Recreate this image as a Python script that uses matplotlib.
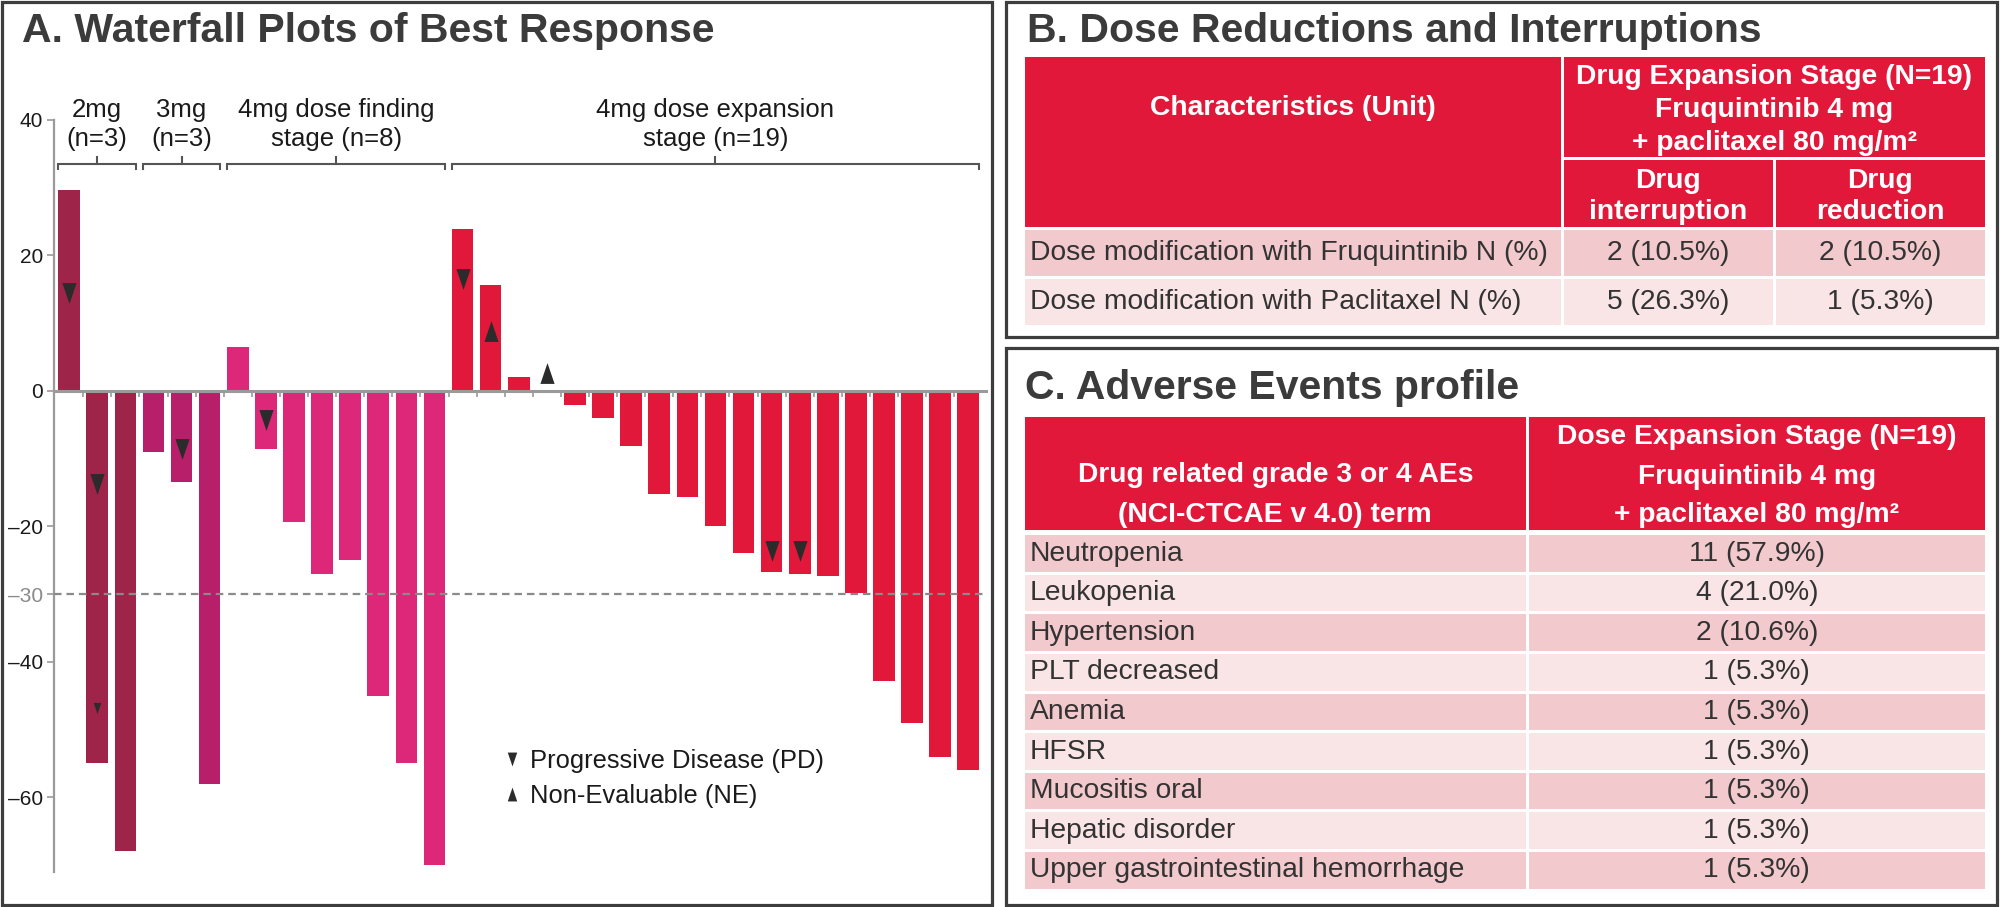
import matplotlib
matplotlib.use("Agg")
import matplotlib.pyplot as plt
from matplotlib.patches import Rectangle
from matplotlib.lines import Line2D
import numpy as np

plt.rcParams['font.family'] = ['Liberation Sans', 'DejaVu Sans']

# ------------------------------------------------------------------ data
group_names = ["2mg", "3mg", "4mg dose finding", "4mg dose expansion"]
group_subs = ["(n=3)", "(n=3)", "stage (n=8)", "stage (n=19)"]
group_sizes = [3, 3, 8, 19]
group_colors = ["#9E2449", "#B81F6B", "#DD2779", "#E2183A"]

best_response = [29.7, -55.0, -68.0,
                 -9.0, -13.5, -58.0,
                 6.5, -8.6, -19.3, -27.0, -25.0, -45.0, -55.0, -70.0,
                 23.9, 15.7, 2.0, 0.0, -2.1, -4.0, -8.2, -15.2, -15.7,
                 -20.0, -24.0, -26.8, -27.0, -27.3, -29.9, -42.9, -49.0,
                 -54.0, -56.0]

pd_index = [0, 1, 4, 7, 14, 25, 26]
pd_value = [14.4, -13.8, -8.6, -4.3, 16.5, -23.7, -23.7]
pd_small_index = [1]
pd_small_value = [-46.8]
ne_index = [15, 17]
ne_value = [8.9, 2.7]

y_ticks = [40, 20, 0, -20, -30, -40, -60]
threshold = -30
legend_labels = ["Progressive Disease (PD)", "Non-Evaluable (NE)"]

a_title = "A. Waterfall Plots of Best Response"

b_title = "B. Dose Reductions and Interruptions"
b_header_left = "Characteristics (Unit)"
b_header_top = ["Drug Expansion Stage (N=19)", "Fruquintinib 4 mg",
                "+ paclitaxel 80 mg/m\u00b2"]
b_subheaders = [["Drug", "interruption"], ["Drug", "reduction"]]
b_rows = ["Dose modification with Fruquintinib N (%)",
          "Dose modification with Paclitaxel N (%)"]
b_interruption = ["2 (10.5%)", "5 (26.3%)"]
b_reduction = ["2 (10.5%)", "1 (5.3%)"]

c_title = "C. Adverse Events profile"
c_header_left = ["Drug related grade 3 or 4 AEs", "(NCI-CTCAE v 4.0) term"]
c_header_right = ["Dose Expansion Stage (N=19)", "Fruquintinib 4 mg",
                  "+ paclitaxel 80 mg/m\u00b2"]
c_terms = ["Neutropenia", "Leukopenia", "Hypertension", "PLT decreased",
           "Anemia", "HFSR", "Mucositis oral", "Hepatic disorder",
           "Upper gastrointestinal hemorrhage"]
c_values = ["11 (57.9%)", "4 (21.0%)", "2 (10.6%)", "1 (5.3%)", "1 (5.3%)",
            "1 (5.3%)", "1 (5.3%)", "1 (5.3%)", "1 (5.3%)"]

# ------------------------------------------------------------------ style
W, H = 2000, 907
BORDER = "#3d3d3d"
TITLE_C = "#3b3b3b"
RED = "#E1183A"
ROW_DARK = "#F2C9CD"
ROW_LIGHT = "#F9E4E6"
TXT = "#333333"
GREY = "#9a9a9a"
TITLE_FS = 29.5
TAB_FS = 20.3

fig = plt.figure(figsize=(W / 100, H / 100), dpi=100)
bg = fig.add_axes([0, 0, 1, 1])
bg.set_xlim(0, W)
bg.set_ylim(H, 0)
bg.axis("off")

# panel frames
for (x0, y0, x1, y1) in [(1.5, 1.5, 991.5, 905), (1005.5, 2, 1996.5, 337),
                         (1005.5, 348, 1996.5, 904.5)]:
    bg.add_patch(Rectangle((x0, y0), x1 - x0, y1 - y0, fill=False,
                           edgecolor=BORDER, linewidth=2.3))

# titles
bg.text(22.5, 42, a_title, fontsize=TITLE_FS, fontweight="bold",
        color=TITLE_C, va="baseline", ha="left")
bg.text(1027, 41.7, b_title, fontsize=TITLE_FS, fontweight="bold",
        color=TITLE_C, va="baseline", ha="left")
bg.text(1025, 399, c_title, fontsize=TITLE_FS, fontweight="bold",
        color=TITLE_C, va="baseline", ha="left")

GAP = 1.5


def cell(x0, x1, y0, y1, color):
    bg.add_patch(Rectangle((x0 + GAP, y0 + GAP), x1 - x0 - 2 * GAP,
                           y1 - y0 - 2 * GAP, facecolor=color,
                           edgecolor="none"))


def htext(x, y, s, **kw):
    bg.text(x, y, s, ha="center", va="center", color="white",
            fontweight="bold", fontsize=TAB_FS, **kw)


# ---------------------------------------------------------------- table B
bx = [1023.5, 1562, 1774, 1986.5]
by_head = [55.5, 158, 228]
b_row_edges = [228, 277.5, 326.5]
cell(bx[0], bx[1], by_head[0], by_head[2], RED)
cell(bx[1], bx[3], by_head[0], by_head[1], RED)
cell(bx[1], bx[2], by_head[1], by_head[2], RED)
cell(bx[2], bx[3], by_head[1], by_head[2], RED)
htext((bx[0] + bx[1]) / 2, 108, b_header_left)
for line, yy in zip(b_header_top, [76.7, 110, 143]):
    htext((bx[1] + bx[3]) / 2, yy, line)
for j, sub in enumerate(b_subheaders):
    xc = (bx[1 + j] + bx[2 + j]) / 2
    for line, yy in zip(sub, [181, 211.7]):
        htext(xc, yy, line)
for i, (lab, v1, v2) in enumerate(zip(b_rows, b_interruption, b_reduction)):
    y0, y1 = b_row_edges[i], b_row_edges[i + 1]
    col = ROW_DARK if i % 2 == 0 else ROW_LIGHT
    for k in range(3):
        cell(bx[k], bx[k + 1], y0, y1, col)
    yc = (y0 + y1) / 2
    bg.text(1030, yc, lab, ha="left", va="center", fontsize=TAB_FS, color=TXT)
    bg.text((bx[1] + bx[2]) / 2, yc, v1, ha="center", va="center",
            fontsize=TAB_FS, color=TXT)
    bg.text((bx[2] + bx[3]) / 2, yc, v2, ha="center", va="center",
            fontsize=TAB_FS, color=TXT)

# ---------------------------------------------------------------- table C
cx = [1023.5, 1527, 1986.5]
cell(cx[0], cx[1], 415.5, 531, RED)
cell(cx[1], cx[2], 415.5, 531, RED)
for line, yy in zip(c_header_left, [475.5, 515.5]):
    htext((cx[0] + cx[1]) / 2, yy, line)
for line, yy in zip(c_header_right, [437, 476.5, 515.5]):
    htext((cx[1] + cx[2]) / 2, yy, line)
row_top0, pitch = 533.7, 39.61
for i, (term, val) in enumerate(zip(c_terms, c_values)):
    y0 = row_top0 + pitch * i
    y1 = y0 + pitch
    col = ROW_DARK if i % 2 == 0 else ROW_LIGHT
    cell(cx[0], cx[1], y0, y1, col)
    cell(cx[1], cx[2], y0, y1, col)
    yc = (y0 + y1) / 2
    bg.text(1030, yc, term, ha="left", va="center", fontsize=TAB_FS, color=TXT)
    bg.text((cx[1] + cx[2]) / 2, yc, val, ha="center", va="center",
            fontsize=TAB_FS, color=TXT)

# ---------------------------------------------------------------- waterfall
ax_l, ax_r, ax_t, ax_b = 54.3, 986, 120, 871.7
ax = fig.add_axes([ax_l / W, 1 - ax_b / H, (ax_r - ax_l) / W, (ax_b - ax_t) / H])
ax.patch.set_alpha(0)
n = len(best_response)
x = np.arange(n)
bar_colors = np.repeat(group_colors, group_sizes)
bw = 0.77
ax.bar(x, best_response, width=bw, color=bar_colors, zorder=2, linewidth=0)
ax.set_xlim(-0.53, 32.63)
ax.set_ylim(-71, 40)

for s in ["top", "right"]:
    ax.spines[s].set_visible(False)
ax.spines["left"].set_color(GREY)
ax.spines["left"].set_linewidth(1.6)
ax.spines["bottom"].set_position(("data", 0))
ax.spines["bottom"].set_color(GREY)
ax.spines["bottom"].set_linewidth(2.2)
ax.spines["bottom"].set_zorder(3)

ax.set_xticks(np.arange(0.5, n - 1, 1))
ax.tick_params(axis="x", length=4, width=1.2, color=GREY, labelbottom=False,
               direction="out")
ax.set_yticks(y_ticks)
ax.set_yticklabels([("\u2013" + str(-v)) if v < 0 else str(v) for v in y_ticks])
ax.tick_params(axis="y", length=5, width=1.2, color=GREY, labelsize=15,
               pad=3, labelcolor="#1a1a1a")
for v, lab in zip(y_ticks, ax.get_yticklabels()):
    if v == threshold:
        lab.set_color("#8a8a8a")

ax.axhline(threshold, color="#8a8a8a", lw=1.6, dashes=(3.4, 2.2), zorder=3)

# group brackets
start = 0
for name, sub, size in zip(group_names, group_subs, group_sizes):
    x0 = start - bw / 2
    x1 = start + size - 1 + bw / 2
    xc = (x0 + x1) / 2
    yb = 33.5
    ax.plot([x0, x0, x1, x1], [yb - 0.8, yb, yb, yb - 0.8], color="#555555",
            lw=1.5, clip_on=False, solid_joinstyle="miter")
    ax.plot([xc, xc], [yb, yb + 1.0], color="#555555", lw=1.5, clip_on=False)
    ax.text(xc, 40.4, name, ha="center", va="baseline", fontsize=18.5,
            color="#1a1a1a", clip_on=False)
    ax.text(xc, 36.2, sub, ha="center", va="baseline", fontsize=18.5,
            color="#1a1a1a", clip_on=False)
    start += size

# response markers
down_tri = [(-0.34, 0.5), (0.34, 0.5), (0.0, -0.5), (-0.34, 0.5)]
up_tri = [(-0.34, -0.5), (0.34, -0.5), (0.0, 0.5), (-0.34, -0.5)]
MK = "#2b2b2b"
ax.plot(pd_index, pd_value, ls="none", marker=down_tri, ms=15, color=MK,
        mew=0, zorder=5)
ax.plot(pd_small_index, pd_small_value, ls="none", marker=down_tri, ms=8,
        color=MK, mew=0, zorder=5)
ax.plot(ne_index, ne_value, ls="none", marker=up_tri, ms=15, color=MK,
        mew=0, zorder=5)

handles = [Line2D([], [], ls="none", marker=down_tri, ms=10, color=MK, mew=0),
           Line2D([], [], ls="none", marker=up_tri, ms=10, color=MK, mew=0)]
ax.legend(handles, legend_labels, loc="center left",
          bbox_to_anchor=((504 - ax_l) / (ax_r - ax_l),
                          (ax_b - 778.3) / (ax_b - ax_t)),
          frameon=False, fontsize=18.4, handlelength=0.6, handletextpad=0.4,
          labelspacing=0.45, borderpad=0, borderaxespad=0,
          labelcolor="#1a1a1a")

fig.savefig("out.png", dpi=100)
